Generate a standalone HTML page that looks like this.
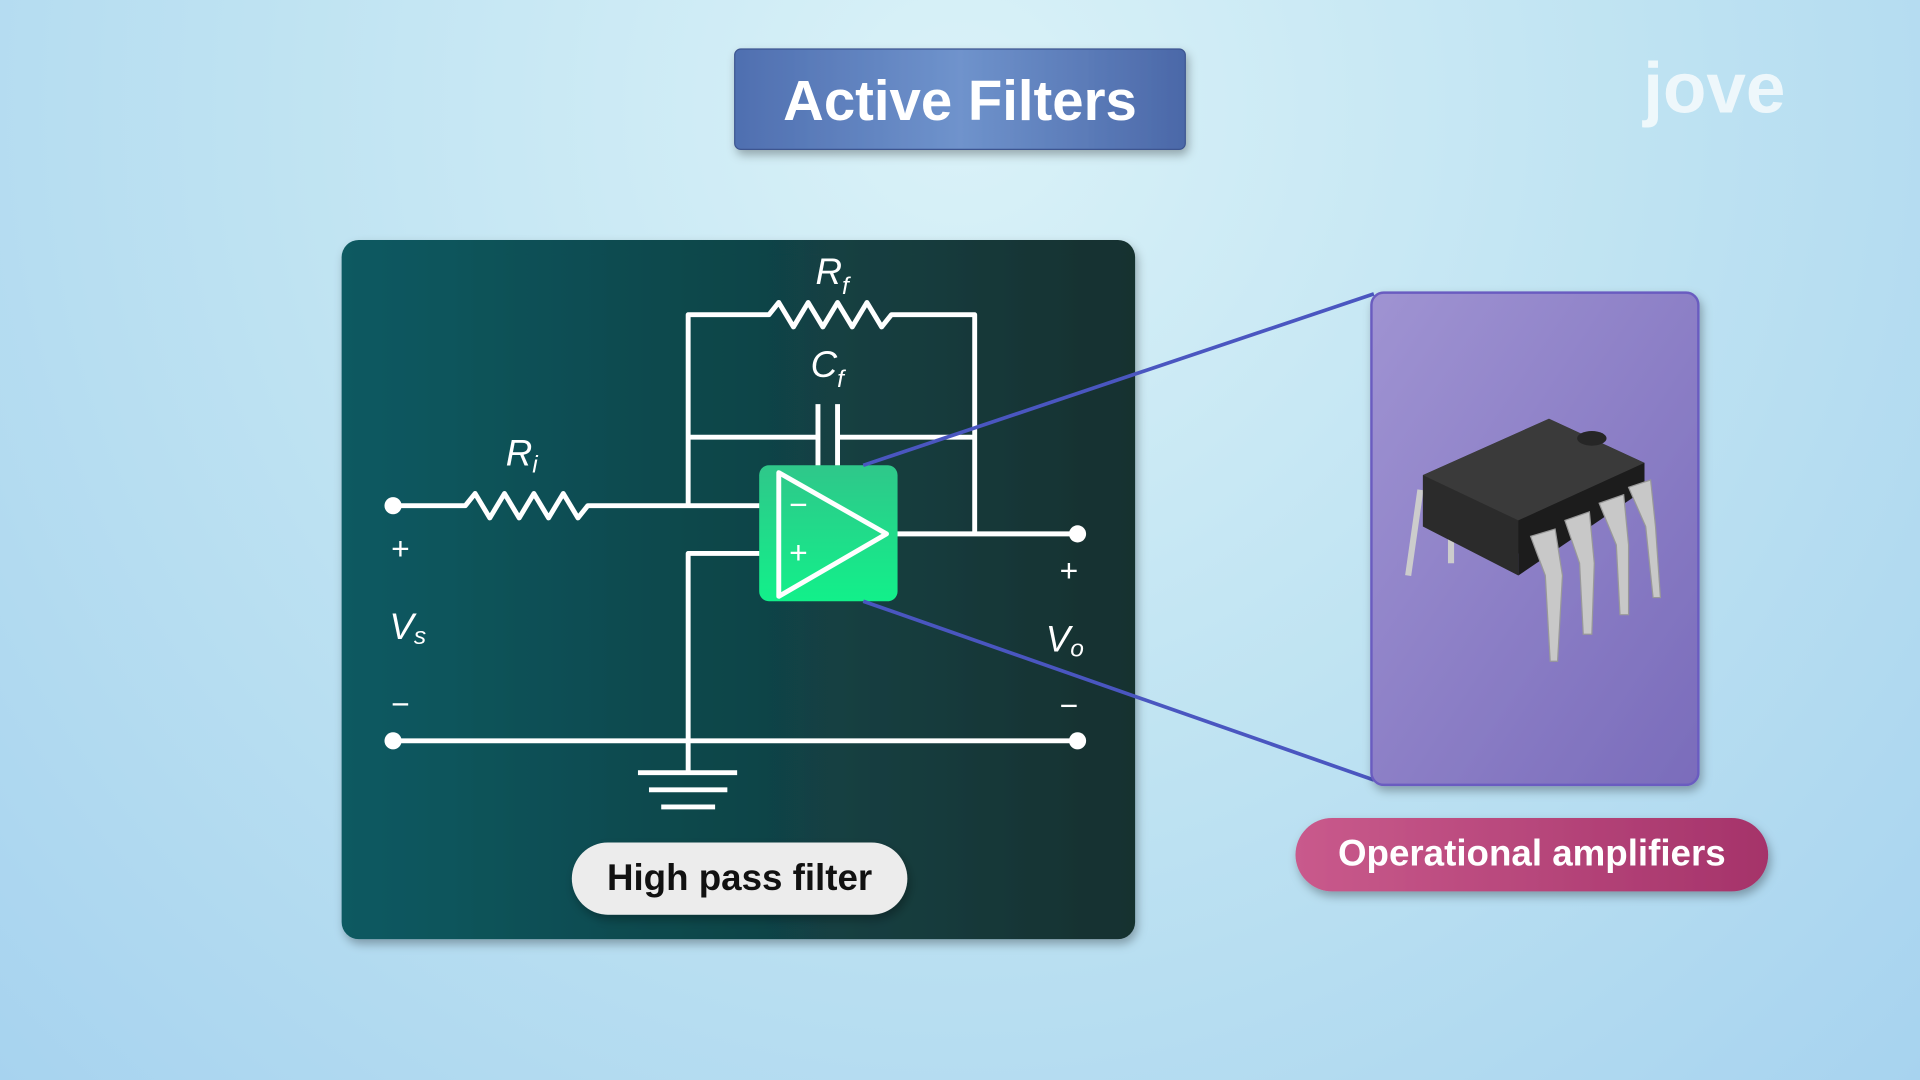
<!DOCTYPE html>
<html><head><meta charset="utf-8"><style>
html,body{margin:0;padding:0;width:1920px;height:1080px;overflow:hidden}
body{background:radial-gradient(ellipse at 50% 10%,#daf2f8 0%,#bfe3f2 50%,#a7d3ef 100%)}
svg{display:block}
text{font-family:"Liberation Sans",sans-serif}
</style></head><body>
<svg width="1920" height="1080" viewBox="0 0 1568 882" xmlns="http://www.w3.org/2000/svg">
<defs>
<linearGradient id="tb" x1="0" y1="0" x2="1" y2="0"><stop offset="0" stop-color="#4f6fb0"/><stop offset=".5" stop-color="#6f93cc"/><stop offset="1" stop-color="#4b68a8"/></linearGradient>
<linearGradient id="pn" x1="0" y1="0" x2="1" y2="0"><stop offset="0" stop-color="#0a5a62"/><stop offset="1" stop-color="#17302f"/></linearGradient>
<linearGradient id="gr" x1="0" y1="0" x2="0" y2="1"><stop offset="0" stop-color="#2fc78a"/><stop offset="1" stop-color="#12f08a"/></linearGradient>
<linearGradient id="pu" x1="0" y1="0" x2="1" y2="1"><stop offset="0" stop-color="#9f93d2"/><stop offset="1" stop-color="#7a6cbb"/></linearGradient>
<linearGradient id="pk" x1="0" y1="0" x2="1" y2="0"><stop offset="0" stop-color="#c95a8c"/><stop offset="1" stop-color="#a5336a"/></linearGradient>
<filter id="sh" x="-10%" y="-10%" width="120%" height="130%"><feDropShadow dx="2" dy="4" stdDeviation="4" flood-opacity=".3"/></filter>
</defs>
<rect x="600" y="40" width="368" height="82" rx="5" fill="url(#tb)" stroke="#3d5590" filter="url(#sh)"/>
<text x="784" y="98" text-anchor="middle" font-size="46" font-weight="bold" fill="#fff">Active Filters</text>
<text x="1400" y="92" text-anchor="middle" font-size="58" font-weight="bold" fill="#fff" opacity=".75">jove</text>
<rect x="279" y="196" width="648" height="571" rx="14" fill="url(#pn)" filter="url(#sh)"/>
<g stroke="#fff" stroke-width="4" fill="none" stroke-linejoin="round">
<path d="M321 413H380l8 -10 12 20 12 -20 12 20 12 -20 12 20 12 -20 12 20 8 -10H622"/>
<path d="M562 413V257H628l8 -10 12 20 12 -20 12 20 12 -20 12 20 12 -20 12 20 8 -10H796V436"/>
<path d="M562 357H668M668 330V382M684 330V382M684 357H796"/>
<path d="M636 452H562V605M321 605H880M724 436H880"/>
<path d="M562 605V630M521 631H602M530 645H594M540 659H584"/>
</g>
<circle cx="321" cy="413" r="7" fill="#fff"/><circle cx="880" cy="436" r="7" fill="#fff"/>
<circle cx="321" cy="605" r="7" fill="#fff"/><circle cx="880" cy="605" r="7" fill="#fff"/>
<rect x="620" y="380" width="113" height="111" rx="8" fill="url(#gr)"/>
<path d="M636 386L636 487L724 436Z" fill="none" stroke="#fff" stroke-width="4" stroke-linejoin="round"/>
<text x="652" y="421" font-size="26" fill="#fff" text-anchor="middle">−</text>
<text x="652" y="460" font-size="26" fill="#fff" text-anchor="middle">+</text>
<g fill="#fff" font-style="italic" font-size="30">
<text x="413" y="380">R<tspan font-size="20" dy="6">i</tspan></text>
<text x="666" y="232">R<tspan font-size="20" dy="8">f</tspan></text>
<text x="662" y="308">C<tspan font-size="20" dy="8">f</tspan></text>
<text x="318" y="522">V<tspan font-size="20" dy="4">s</tspan></text>
<text x="854" y="532">V<tspan font-size="20" dy="4">o</tspan></text>
</g>
<g fill="#fff" font-size="26" text-anchor="middle">
<text x="327" y="457">+</text><text x="327" y="584">−</text>
<text x="873" y="475">+</text><text x="873" y="585">−</text>
</g>
<rect x="467" y="688" width="274" height="59" rx="29.5" fill="#ececec" filter="url(#sh)"/>
<text x="604" y="727" text-anchor="middle" font-size="30" font-weight="bold" fill="#111">High pass filter</text>
<g stroke="#4a56c0" stroke-width="3"><line x1="705" y1="380" x2="1122" y2="240"/><line x1="705" y1="491" x2="1122" y2="637"/></g>
<rect x="1120" y="239" width="267" height="402" rx="10" fill="url(#pu)" stroke="#6a5cc0" stroke-width="2" filter="url(#sh)"/>
<g>
<path d="M1160 400L1150 470" stroke="#ccc" stroke-width="5"/><path d="M1185 440V460" stroke="#ccc" stroke-width="5"/>
<path d="M1162 388L1265 342L1343 378L1343 400L1240 452L1240 470L1162 430Z" fill="#2b2b2b"/>
<path d="M1162 388L1265 342L1343 378L1240 425Z" fill="#3a3a3a"/>
<path d="M1240 425L1343 378V400L1240 470Z" fill="#1c1c1c"/>
<ellipse cx="1300" cy="358" rx="12" ry="6" fill="#262626"/>
<g fill="#c8c8c8" stroke="#999" stroke-width="1">
<path d="M1250 438L1270 432 1276 470 1272 540 1266 540 1262 470Z"/>
<path d="M1278 425L1298 418 1302 460 1300 518 1293 518 1290 460Z"/>
<path d="M1306 411L1326 404 1330 445 1330 502 1323 502 1320 445Z"/>
<path d="M1330 398L1348 392 1352 430 1356 488 1350 488 1344 430Z"/>
</g>
</g>
<rect x="1058" y="668" width="386" height="60" rx="30" fill="url(#pk)" filter="url(#sh)"/>
<text x="1251" y="707" text-anchor="middle" font-size="30" font-weight="bold" fill="#fff">Operational amplifiers</text>
</svg>
</body></html>
